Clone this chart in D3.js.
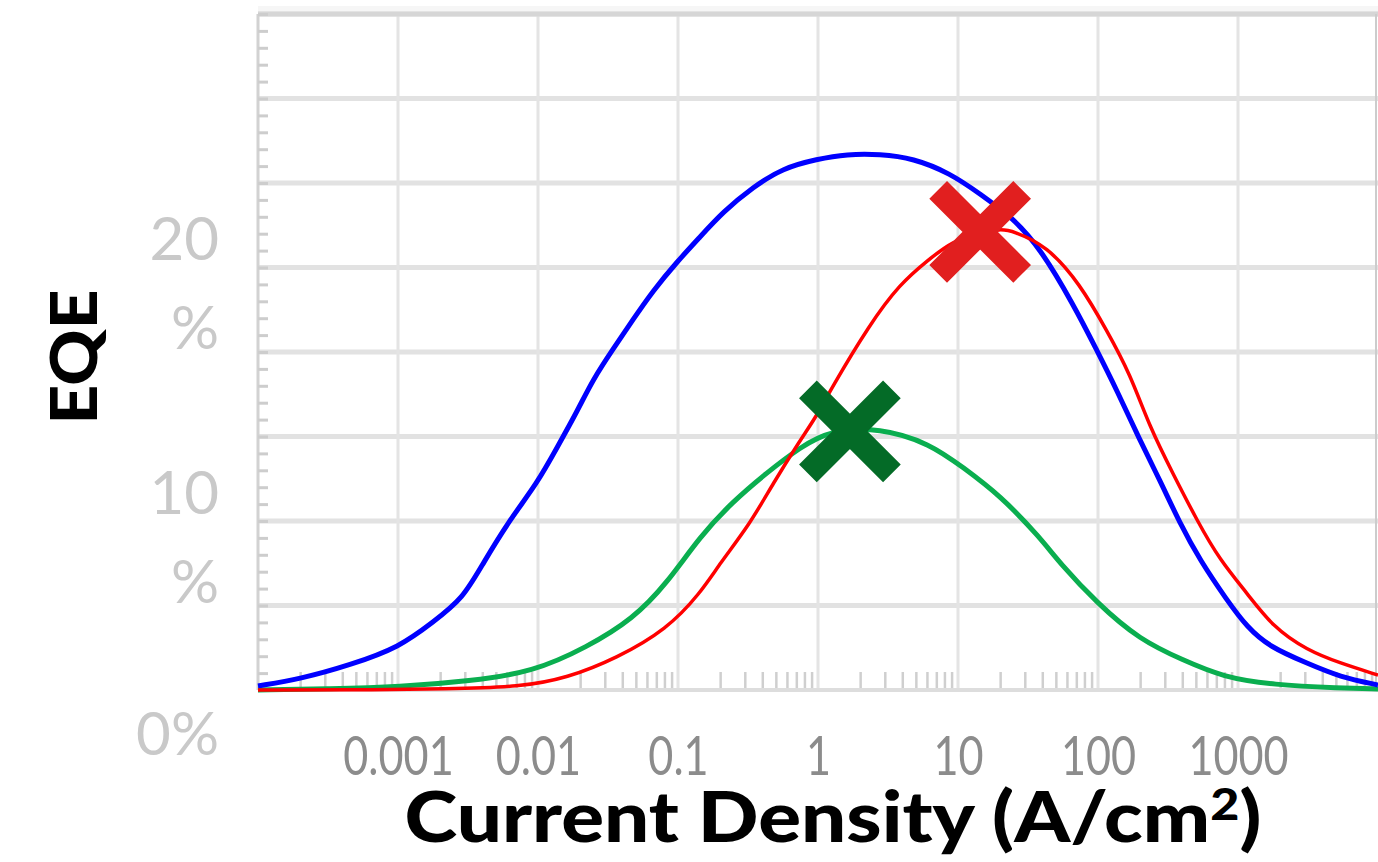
<!DOCTYPE html>
<html>
<head>
<meta charset="utf-8">
<script src="https://cdn.jsdelivr.net/npm/d3@7"></script>
<style>
  html, body { margin: 0; padding: 0; background: #ffffff; }
  svg { display: block; }
</style>
</head>
<body>
<svg id="chart" width="1378" height="862"></svg>
<script>
// ---- Data ----
// Current density (A/cm^2) and EQE (%) for each series
const blueX = [0.0001, 0.0002, 0.000454, 0.00103, 0.00178, 0.00291, 0.00405, 0.00631, 0.00984, 0.0137, 0.0190, 0.0247, 0.0344, 0.0477, 0.0663, 0.0984, 0.1435, 0.2096, 0.3434, 0.5623, 0.984, 1.61, 2.77, 4.77, 8.77, 14.4, 24.7, 38.5, 66.3, 98.4, 136.7, 199.5, 277, 385, 535, 835, 1160, 1693, 3110, 5350, 10000];
const blueY = [0.16, 0.43, 0.98, 1.69, 2.68, 3.60, 5.00, 6.73, 8.15, 9.57, 10.98, 12.25, 13.45, 14.61, 15.75, 16.89, 17.87, 18.86, 19.84, 20.59, 20.94, 21.14, 21.14, 20.98, 20.39, 19.57, 18.62, 17.44, 15.24, 13.39, 11.81, 9.84, 8.27, 6.57, 5.12, 3.54, 2.48, 1.69, 1.06, 0.51, 0.20];

const redX = [0.0001, 0.000454, 0.00235, 0.00743, 0.0161, 0.0367, 0.0834, 0.1435, 0.1995, 0.3268, 0.4775, 0.7434, 0.984, 1.218, 2.352, 3.853, 6.01, 9.21, 14.4, 19.95, 24.7, 43.2, 74.4, 115.9, 169.3, 235, 343, 509, 743, 1160, 1778, 3110, 5350, 10000];
const redY = [0.0, 0.0, 0.04, 0.12, 0.47, 1.26, 2.40, 3.80, 5.00, 6.55, 8.15, 9.84, 10.83, 11.81, 14.45, 16.02, 16.93, 17.72, 18.03, 18.19, 18.11, 17.52, 16.02, 14.17, 12.48, 10.35, 8.54, 6.69, 5.12, 3.82, 2.48, 1.57, 1.06, 0.59];

const greenX = [0.0001, 0.000327, 0.00103, 0.00327, 0.00921, 0.0224, 0.0477, 0.0834, 0.1435, 0.247, 0.4325, 0.7434, 1.218, 2.77, 6.31, 10.86, 19.95, 38.5, 53.5, 98.4, 199.5, 405, 781, 1778, 5350, 10000];
const greenY = [0.0, 0.04, 0.12, 0.35, 0.71, 1.69, 2.80, 4.21, 6.06, 7.44, 8.58, 9.57, 10.24, 10.35, 9.72, 8.78, 7.68, 6.02, 5.0, 3.43, 1.97, 1.18, 0.51, 0.20, 0.08, 0.04];

// Highlighted maxima markers
const markerX = [14.4, 1.69];
const markerY = [18.07, 10.2];
const markerColors = ["#e11f1f", "#046b27"];

// Tick labels
const xTickValues = [0.001, 0.01, 0.1, 1, 10, 100, 1000];
const xTickLabels = ["0.001", "0.01", "0.1", "1", "10", "100", "1000"];
const yTickValues = [0, 10, 20];
const yTickLabels = ["0%", "10 %", "20 %"];

const xTitle = "Current Density (A/cm";
const yTitle = "EQE";

// ---- Layout ----
const svg = d3.select("#chart");
const pLeft = 258, pRight = 1378, pTop = 14, pBottom = 690;

const x = d3.scaleLog().domain([1e-4, 1e4]).range([pLeft, pRight]);
const y = d3.scaleLinear().domain([0, 80 / 3]).range([pBottom, pTop]);

// faint band above top border
svg.append("rect").attr("x", pLeft).attr("y", 6).attr("width", pRight - pLeft).attr("height", 5).attr("fill", "#f6f6f6");

// horizontal grid lines
const hGrid = d3.range(1, 9).map(i => i * 10 / 3);
svg.append("g").selectAll("line").data(hGrid).join("line")
  .attr("x1", pLeft).attr("x2", pRight)
  .attr("y1", d => y(d)).attr("y2", d => y(d))
  .attr("stroke", "#e2e2e2").attr("stroke-width", 5);

// vertical grid lines
svg.append("g").selectAll("line").data(xTickValues).join("line")
  .attr("x1", d => x(d)).attr("x2", d => x(d))
  .attr("y1", pTop).attr("y2", pBottom)
  .attr("stroke", "#e4e4e4").attr("stroke-width", 3);

// top border
svg.append("line").attr("x1", pLeft).attr("x2", pRight).attr("y1", pTop).attr("y2", pTop)
  .attr("stroke", "#d6d6d6").attr("stroke-width", 5);
// left border
svg.append("line").attr("x1", pLeft).attr("x2", pLeft).attr("y1", pTop).attr("y2", pBottom)
  .attr("stroke", "#d2d2d2").attr("stroke-width", 3);
// right border
svg.append("line").attr("x1", pRight - 2).attr("x2", pRight - 2).attr("y1", pTop).attr("y2", pBottom)
  .attr("stroke", "#cccccc").attr("stroke-width", 2);

// minor x ticks (log decades)
const minorX = [];
for (let e = -4; e < 4; e++) for (let k = 2; k <= 9; k++) minorX.push(k * Math.pow(10, e));
const xMinorAxis = d3.axisBottom(x).tickValues(minorX).tickSize(-18).tickFormat("");
const gMinor = svg.append("g").attr("transform", `translate(0,${pBottom})`).call(xMinorAxis);
gMinor.select(".domain").remove();
gMinor.selectAll(".tick line").attr("stroke", "#cfcfcf").attr("stroke-width", 2.5);

// minor y ticks
const minorY = d3.range(0, 80 / 3 + 0.01, 2 / 3);
const yMinorAxis = d3.axisLeft(y).tickValues(minorY).tickSize(-10).tickFormat("");
const gYMinor = svg.append("g").attr("transform", `translate(${pLeft},0)`).call(yMinorAxis);
gYMinor.select(".domain").remove();
gYMinor.selectAll(".tick line").attr("stroke", "#cdcdcd").attr("stroke-width", 3);

// bottom axis line
svg.append("line").attr("x1", pLeft).attr("x2", pRight).attr("y1", pBottom).attr("y2", pBottom)
  .attr("stroke", "#dddddd").attr("stroke-width", 4);

// x tick labels
const xAxis = d3.axisBottom(x).tickValues(xTickValues)
  .tickFormat((d, i) => xTickLabels[i]).tickSize(0);
const gx = svg.append("g").attr("transform", `translate(0,${pBottom})`).call(xAxis);
gx.select(".domain").remove();
gx.selectAll("text")
  .attr("y", 85).attr("dy", 0)
  .attr("fill", "#8c8c8c")
  .style("font-family", "Lato, 'Open Sans', sans-serif")
  .style("font-size", "54px")
  .each(function () {
    const w = this.getComputedTextLength();
    d3.select(this).attr("textLength", w * 0.8).attr("lengthAdjust", "spacingAndGlyphs");
  });

// y tick labels (split in lines)
const gy = svg.append("g");
yTickValues.forEach((v, i) => {
  const lines = yTickLabels[i].split(" ");
  const t = gy.append("text")
    .attr("text-anchor", "end")
    .attr("fill", "#c9c9c9")
    .style("font-family", "Lato, 'Open Sans', sans-serif")
    .style("font-size", "60px");
  const base = y(v) + (lines.length > 1 ? 77 : 65);
  lines.forEach((ln, j) => {
    t.append("tspan").attr("x", 219).attr("y", base + j * 89).text(ln);
  });
});

// curves
const line = d3.line().x(d => x(d[0])).y(d => y(d[1])).curve(d3.curveBasis);
const series = [
  { xs: greenX, ys: greenY, color: "#0aae4f", w: 5 },
  { xs: blueX, ys: blueY, color: "#0000ff", w: 5 },
  { xs: redX, ys: redY, color: "#ff0000", w: 3.5 }
];
series.forEach(s => {
  svg.append("path")
    .datum(s.xs.map((v, i) => [v, s.ys[i]]))
    .attr("d", line)
    .attr("fill", "none")
    .attr("stroke", s.color)
    .attr("stroke-width", s.w)
    .attr("stroke-linejoin", "round");
});

// markers (X)
const arm = 42;
markerX.forEach((mx, i) => {
  const cx = x(mx), cy = y(markerY[i]);
  svg.append("path")
    .attr("d", `M${cx - arm},${cy - arm}L${cx + arm},${cy + arm}M${cx - arm},${cy + arm}L${cx + arm},${cy - arm}`)
    .attr("stroke", markerColors[i])
    .attr("stroke-width", 25)
    .attr("stroke-linecap", "butt")
    .attr("fill", "none");
});

// axis titles
const xt = svg.append("text")
  .attr("x", 833).attr("y", 842)
  .attr("text-anchor", "middle")
  .attr("fill", "#000")
  .attr("textLength", 857)
  .attr("lengthAdjust", "spacingAndGlyphs")
  .style("font-family", "Lato, sans-serif")
  .style("font-weight", 900)
  .style("font-size", "70px");
xt.append("tspan").text(xTitle);
xt.append("tspan").attr("dy", -22).style("font-size", "44px").text("2");
xt.append("tspan").attr("dy", 22).text(")");

svg.append("text")
  .attr("transform", "translate(97,357) rotate(-90)")
  .attr("text-anchor", "middle")
  .attr("fill", "#000")
  .attr("textLength", 135)
  .attr("lengthAdjust", "spacingAndGlyphs")
  .style("font-family", "Lato, sans-serif")
  .style("font-weight", 900)
  .style("font-size", "64px")
  .text(yTitle);
</script>
</body>
</html>
